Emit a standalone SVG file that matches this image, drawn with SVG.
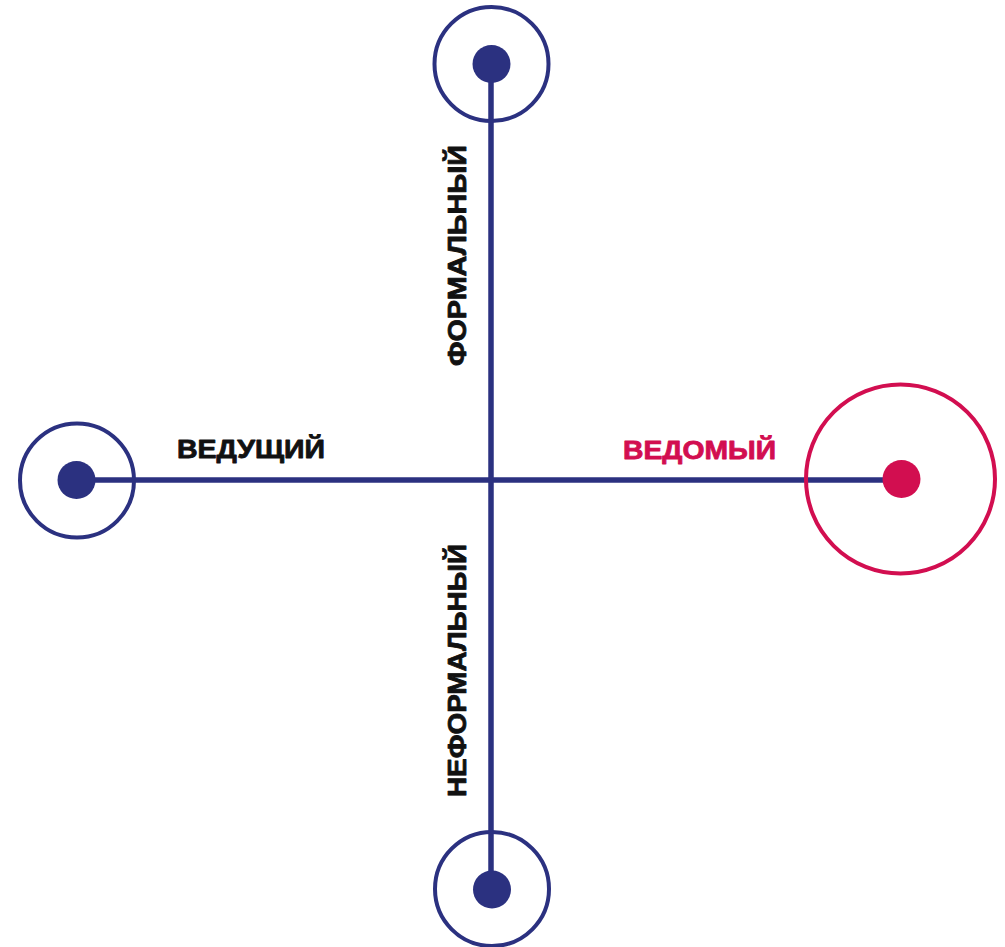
<svg xmlns="http://www.w3.org/2000/svg" width="1005" height="947" viewBox="0 0 1005 947">
  <style>
    .axis { stroke: #2B3180; stroke-width: 5.5; fill: none; }
    .ring { fill: none; stroke-width: 4; }
    .ring-navy { stroke: #2B3180; }
    .ring-red { stroke: #D20E50; }
    .dot-navy { fill: #2B3180; }
    .dot-red { fill: #D20E50; }
    .label { font-family: "Liberation Sans", Arial, sans-serif; font-weight: bold; font-size: 25px; stroke-width: 0.8; stroke-linejoin: round; }
    .dark { fill: #111111; stroke: #111111; }
    .red { fill: #D20E50; stroke: #D20E50; }
  </style>

  <!-- axes -->
  <g id="connectors">
    <line class="axis" x1="77" y1="480" x2="901" y2="480"/>
    <line class="axis" x1="491" y1="64" x2="491" y2="889"/>
  </g>

  <g id="node-top">
    <circle class="ring ring-navy" cx="491.5" cy="64" r="57"/>
    <circle class="dot-navy" cx="491.5" cy="64" r="19"/>
  </g>

  <g id="node-left">
    <circle class="ring ring-navy" cx="77" cy="480.5" r="57"/>
    <circle class="dot-navy" cx="76.5" cy="480" r="19"/>
  </g>

  <g id="node-right">
    <circle class="ring ring-red" cx="900.5" cy="479" r="94.5"/>
    <circle class="dot-red" cx="901.5" cy="479" r="19"/>
  </g>

  <g id="node-bottom">
    <circle class="ring ring-navy" cx="492" cy="889" r="57"/>
    <circle class="dot-navy" cx="492" cy="889.5" r="19"/>
  </g>

  <g id="labels">
    <text class="label dark" x="177" y="458" textLength="148" lengthAdjust="spacingAndGlyphs">ВЕДУЩИЙ</text>
    <text class="label red" x="623" y="459" textLength="153" lengthAdjust="spacingAndGlyphs">ВЕДОМЫЙ</text>
    <text class="label dark" transform="translate(466,366) rotate(-90)" textLength="221" lengthAdjust="spacingAndGlyphs">ФОРМАЛЬНЫЙ</text>
    <text class="label dark" transform="translate(466,797) rotate(-90)" textLength="253" lengthAdjust="spacingAndGlyphs">НЕФОРМАЛЬНЫЙ</text>
  </g>
</svg>
